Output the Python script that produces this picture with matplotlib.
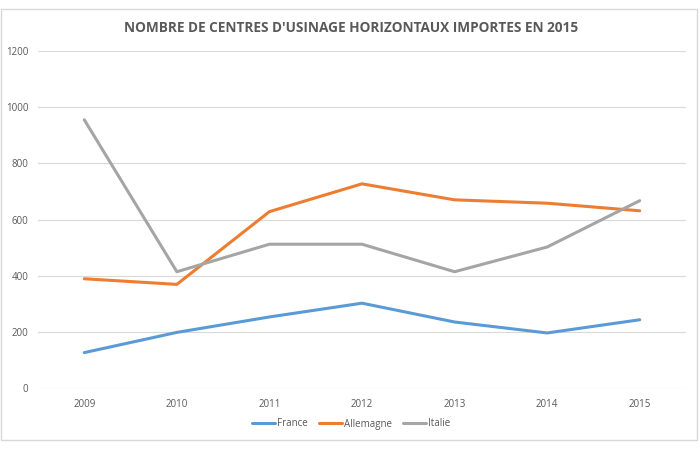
import matplotlib
matplotlib.use("Agg")
import matplotlib.pyplot as plt
from matplotlib.patches import Rectangle

years = ["2009", "2010", "2011", "2012", "2013", "2014", "2015"]
france = [126, 198, 253, 302, 235, 196, 243]
allemagne = [389, 369, 628, 727, 670, 658, 631]
italie = [955, 414, 512, 512, 414, 502, 667]
yticks = [0, 200, 400, 600, 800, 1000, 1200]

plt.rcParams['font.family'] = ['Open Sans', 'DejaVu Sans']

fig = plt.figure(figsize=(7, 4.5), dpi=100)
fig.patches.append(Rectangle((1/700, 1 - 440/450), 696/700, 431/450,
                             transform=fig.transFigure, fill=False,
                             edgecolor='#d9d9d9', linewidth=1))
ax = fig.add_axes([38/700, 1 - 388/450, 648/700, 337/450])

x = list(range(len(years)))
ax.plot(x, france, color='#5B9BD5', lw=2.2, label='France', solid_capstyle='round')
ax.plot(x, allemagne, color='#ED7D31', lw=2.2, label='Allemagne', solid_capstyle='round')
ax.plot(x, italie, color='#A5A5A5', lw=2.2, label='Italie', solid_capstyle='round')

ax.set_xlim(-0.5, len(years) - 0.5)
ax.set_ylim(0, 1200)
ax.set_yticks(yticks)
ax.set_yticklabels([str(v) for v in yticks])
ax.set_xticks(x)
ax.set_xticklabels(years)
ax.grid(axis='y', color='#d9d9d9', lw=0.8)
ax.set_axisbelow(True)
for s in ax.spines.values():
    s.set_visible(False)
ax.tick_params(axis='both', length=0, labelsize=7, colors='#595959')
ax.tick_params(axis='x', pad=8)
ax.tick_params(axis='y', pad=7)

fig.text(351/700, 1 - 28/450, "NOMBRE DE CENTRES D'USINAGE HORIZONTAUX IMPORTES EN 2015",
         ha='center', va='center', fontsize=9.8, fontweight='bold', color='#595959')

leg = fig.legend(loc='center', bbox_to_anchor=(351/700, 1 - 424/450), ncol=3,
                 frameon=False, fontsize=7, handlelength=2.35, columnspacing=1.15,
                 handletextpad=0.2)
for t in leg.get_texts():
    t.set_color('#595959')

fig.savefig('out.png', dpi=100)
